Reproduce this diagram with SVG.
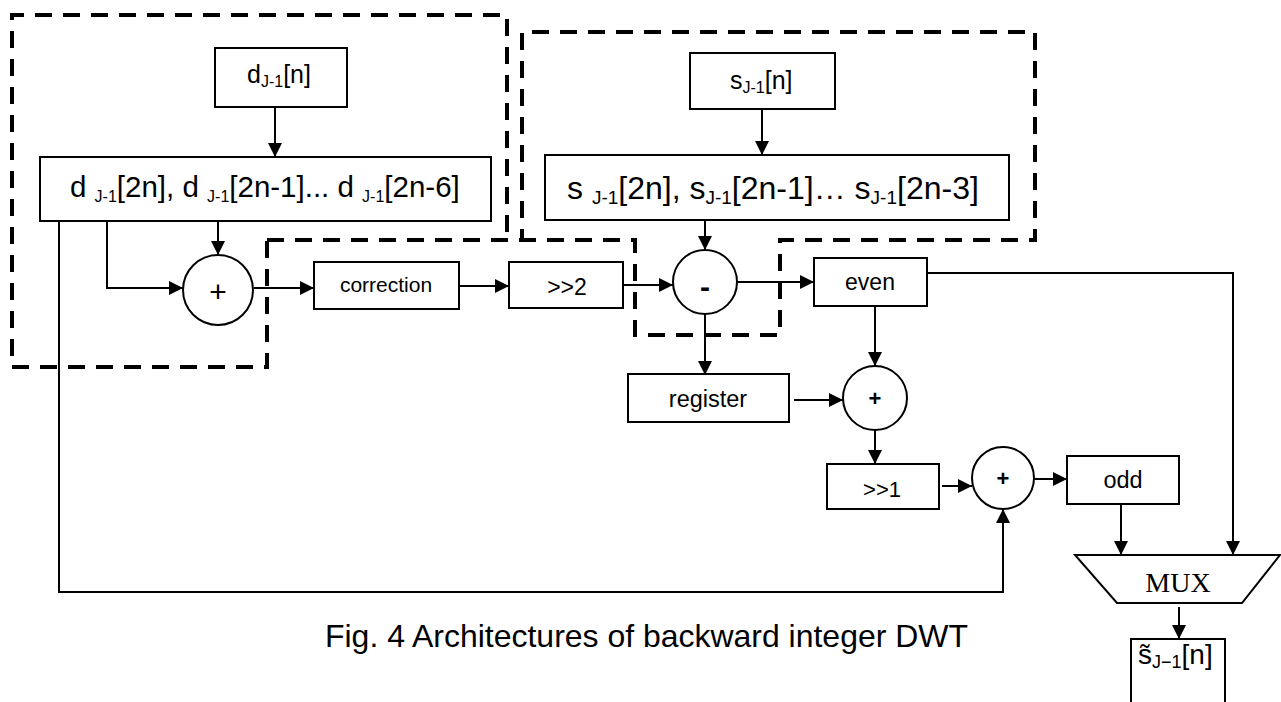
<svg xmlns="http://www.w3.org/2000/svg" width="1281" height="702" viewBox="0 0 1281 702">
<style>
.bx{fill:#fff;stroke:#000;stroke-width:2}
.ci{fill:#fff;stroke:#000;stroke-width:2}
.cn{fill:none;stroke:#000;stroke-width:2}
.ds{fill:none;stroke:#000;stroke-width:4;stroke-dasharray:17 11}
text{font-family:"Liberation Sans",Arial,sans-serif;fill:#000}
.serif{font-family:"Liberation Serif","Times New Roman",serif}
</style>
<defs>
<marker id="ah" markerWidth="14" markerHeight="14" refX="14" refY="7" orient="auto" markerUnits="userSpaceOnUse">
<path d="M0,0 L14,7 L0,14 z" fill="#000"/>
</marker>
</defs>
<rect width="1281" height="702" fill="#fff"/>

<g id="regions">
<path class="ds" d="M507,232 V15 H12 V367 H267 V240"/>
<path class="ds" d="M267,240 H635 V335 H780 V240 H1035 V32 H522 V238"/>
</g>

<g id="connectors">
<path class="cn" d="M275,107 V157" marker-end="url(#ah)"/>
<path class="cn" d="M218,221 V255" marker-end="url(#ah)"/>
<path class="cn" d="M107,221 V288 H183" marker-end="url(#ah)"/>
<path class="cn" d="M254,288 H314" marker-end="url(#ah)"/>
<path class="cn" d="M459,286 H509" marker-end="url(#ah)"/>
<path class="cn" d="M623,285 H673" marker-end="url(#ah)"/>
<path class="cn" d="M762,109 V155" marker-end="url(#ah)"/>
<path class="cn" d="M705,220 V250" marker-end="url(#ah)"/>
<path class="cn" d="M737,282 H814" marker-end="url(#ah)"/>
<path class="cn" d="M705,314 V375" marker-end="url(#ah)"/>
<path class="cn" d="M794,400 H843" marker-end="url(#ah)"/>
<path class="cn" d="M875,306 V366" marker-end="url(#ah)"/>
<path class="cn" d="M875,430 V464" marker-end="url(#ah)"/>
<path class="cn" d="M942,486 H972" marker-end="url(#ah)"/>
<path class="cn" d="M59,221 V592 H1003 V509" marker-end="url(#ah)"/>
<path class="cn" d="M1034,479 H1067" marker-end="url(#ah)"/>
<path class="cn" d="M1121,504 V555" marker-end="url(#ah)"/>
<path class="cn" d="M925,273 H1233 V555" marker-end="url(#ah)"/>
<path class="cn" d="M1179,607 V639" marker-end="url(#ah)"/>
</g>

<g id="d_n">
<rect class="bx" x="215" y="48" width="132" height="59"/>
<text x="247" y="83" font-size="25">d<tspan font-size="16" dy="4">J-1</tspan><tspan dy="-4">[n]</tspan></text>
</g>

<g id="d_buffer">
<rect class="bx" x="40" y="157" width="451" height="64"/>
<text x="70" y="197" font-size="29.5">d <tspan font-size="16" dy="5">J-1</tspan><tspan dy="-5">[2n], d </tspan><tspan font-size="16" dy="5">J-1</tspan><tspan dy="-5">[2n-1]... d </tspan><tspan font-size="16" dy="5">J-1</tspan><tspan dy="-5">[2n-6]</tspan></text>
</g>

<g id="sum1">
<circle class="ci" cx="218" cy="290" r="35"/>
<text x="218" y="302" font-size="30" text-anchor="middle">+</text>
</g>

<g id="correction">
<rect class="bx" x="314" y="262" width="145" height="47"/>
<text x="386" y="292" font-size="21" text-anchor="middle">correction</text>
</g>

<g id="shift2">
<rect class="bx" x="509" y="262" width="114" height="46"/>
<text x="567" y="295" font-size="23" text-anchor="middle">&gt;&gt;2</text>
</g>

<g id="s_n">
<rect class="bx" x="690" y="53" width="145" height="56"/>
<text x="730" y="89" font-size="25">s<tspan font-size="16" dy="4">J-1</tspan><tspan dy="-4">[n]</tspan></text>
</g>

<g id="s_buffer">
<rect class="bx" x="545" y="155" width="464" height="65"/>
<text x="567" y="199" font-size="32">s <tspan font-size="19" dy="5">J-1</tspan><tspan dy="-5">[2n], s</tspan><tspan font-size="19" dy="5">J-1</tspan><tspan dy="-5">[2n-1]… s</tspan><tspan font-size="19" dy="5">J-1</tspan><tspan dy="-5">[2n-3]</tspan></text>
</g>

<g id="sub">
<circle class="ci" cx="705" cy="282" r="32"/>
<text x="705" y="297" font-size="30" font-weight="bold" text-anchor="middle">-</text>
</g>

<g id="even">
<rect class="bx" x="814" y="258" width="113" height="48"/>
<text x="870" y="290" font-size="23" text-anchor="middle">even</text>
</g>

<g id="register">
<rect class="bx" x="628" y="374" width="161" height="48"/>
<text x="708" y="407" font-size="23.5" text-anchor="middle">register</text>
</g>

<g id="sum2">
<circle class="ci" cx="875" cy="398" r="32"/>
<text x="875" y="406" font-size="22" font-weight="bold" text-anchor="middle">+</text>
</g>

<g id="shift1">
<rect class="bx" x="827" y="464" width="112" height="45"/>
<text x="882" y="497" font-size="22" text-anchor="middle">&gt;&gt;1</text>
</g>

<g id="sum3">
<circle class="ci" cx="1003" cy="478" r="31"/>
<text x="1003" y="486" font-size="22" font-weight="bold" text-anchor="middle">+</text>
</g>

<g id="odd">
<rect class="bx" x="1067" y="456" width="112" height="48"/>
<text x="1123" y="488" font-size="23.5" text-anchor="middle">odd</text>
</g>

<g id="mux">
<polygon class="bx" points="1075,555 1280,555 1242,603 1117,603"/>
<text class="serif" x="1178" y="592" font-size="28" text-anchor="middle">MUX</text>
</g>

<g id="output">
<rect class="bx" x="1131" y="639" width="94" height="80"/>
<text x="1138" y="664" font-size="28">s̃<tspan font-size="18" dy="4">J−1</tspan><tspan dy="-4">[n]</tspan></text>
</g>

<text id="caption" x="325" y="647" font-size="31.5" textLength="643" lengthAdjust="spacingAndGlyphs">Fig. 4 Architectures of backward integer DWT</text>
</svg>
